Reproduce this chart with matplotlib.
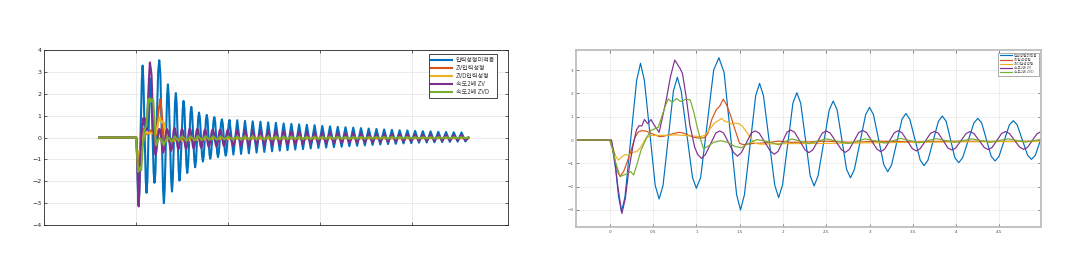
import matplotlib
matplotlib.use('Agg')
import matplotlib.pyplot as plt

labels = ['입력성형미적용', 'ZV입력성형', 'ZVD입력성형', '속도2배 ZV', '속도2배 ZVD']
colors = ['#0072BD', '#D95319', '#EDB120', '#7E2F8E', '#77AC30']

blue_t = [-2.0, 0.0, 0.03, 0.07, 0.10, 0.135, 0.175,
          0.31, 0.355, 0.40, 0.525, 0.57, 0.615, 0.735, 0.78, 0.825,
          0.955, 1.00, 1.05, 1.20, 1.26, 1.32, 1.465, 1.51, 1.555,
          1.685, 1.73, 1.775, 1.905, 1.95, 1.995, 2.115, 2.16, 2.205,
          2.315, 2.36, 2.405, 2.535, 2.58, 2.625, 2.735, 2.78, 2.825,
          2.955, 3.00, 3.045, 3.165, 3.21, 3.255, 3.375, 3.42, 3.465,
          3.585, 3.63, 3.675, 3.795, 3.84, 3.885, 3.985, 4.03, 4.075,
          4.205, 4.25, 4.295, 4.405, 4.45, 4.495, 4.615, 4.66, 4.705,
          4.825, 4.87, 4.915, 5.03, 5.075]
blue_v = [0.0, 0.0, -0.35, -1.3, -2.4, -3.08, -2.45,
          2.55, 3.29, 2.55, -1.95, -2.53, -1.95, 2.1, 2.69, 2.1,
          -1.6, -2.07, -1.6, 3.0, 3.53, 2.9, -2.35, -3.0, -2.35,
          1.9, 2.43, 1.9, -1.93, -2.47, -1.93, 1.58, 2.03, 1.58,
          -1.54, -1.97, -1.54, 1.30, 1.67, 1.30, -1.26, -1.62, -1.26,
          1.09, 1.40, 1.09, -1.06, -1.36, -1.06, 0.89, 1.14, 0.89,
          -0.86, -1.10, -0.86, 0.80, 1.03, 0.80, -0.76, -0.97, -0.76,
          0.73, 0.93, 0.73, -0.70, -0.90, -0.70, 0.65, 0.83, 0.65,
          -0.65, -0.83, -0.65, 0.62, 0.80]

orange_t = [-2.0, 0.0, 0.03, 0.06, 0.10, 0.12, 0.16, 0.20, 0.25, 0.29, 0.33,
            0.37, 0.42, 0.47, 0.52, 0.57, 0.62, 0.68, 0.74, 0.80, 0.85, 0.90,
            0.97, 1.03, 1.09, 1.13, 1.18, 1.23, 1.27, 1.31, 1.35, 1.40, 1.45,
            1.50, 1.55, 1.65, 1.80, 1.95, 2.10, 2.30, 2.50, 2.80, 3.10, 3.50,
            4.00, 4.50, 5.00, 7.0, 9.0, 11.0, 13.0, 15.0, 17.0, 18.05]
orange_v = [0.0, 0.0, -0.3, -0.9, -1.45, -1.55, -1.35, -0.95, -0.4, 0.1, 0.35,
            0.4, 0.38, 0.3, 0.22, 0.15, 0.16, 0.22, 0.28, 0.33, 0.3, 0.22,
            0.12, 0.08, 0.1, 0.25, 0.9, 1.3, 1.45, 1.75, 1.5, 1.0, 0.4,
            -0.15, -0.2, -0.15, -0.12, -0.05, -0.1, -0.08, -0.05, -0.1, -0.05, -0.08,
            -0.05, -0.06, -0.05, -0.04, -0.05, -0.03, -0.04, -0.03, -0.03, -0.03]

yellow_t = [-2.0, 0.0, 0.04, 0.07, 0.10, 0.14, 0.18, 0.22, 0.27, 0.31, 0.36,
            0.42, 0.48, 0.55, 0.65, 0.75, 0.85, 0.95, 1.05, 1.10, 1.15, 1.21,
            1.29, 1.33, 1.37, 1.41, 1.45, 1.49, 1.53, 1.59, 1.67, 1.75, 1.90,
            2.20, 2.60, 3.00, 3.50, 4.00, 4.50, 5.00, 8.0, 11.0, 14.0, 18.05]
yellow_v = [0.0, 0.0, -0.4, -0.7, -0.86, -0.72, -0.62, -0.66, -0.52, -0.5, -0.3,
            0.1, 0.2, 0.2, 0.2, 0.22, 0.2, 0.17, 0.15, 0.2, 0.45, 0.73,
            0.92, 0.8, 0.76, 0.68, 0.72, 0.7, 0.6, 0.29, -0.14, -0.18, -0.16,
            -0.15, -0.14, -0.12, -0.1, -0.08, -0.07, -0.06, -0.04, -0.03, -0.03, -0.02]

purple_t = [-2.0, 0.02, 0.05, 0.09, 0.14, 0.18, 0.22, 0.27, 0.31, 0.34, 0.37,
            0.40, 0.44, 0.475, 0.52, 0.57, 0.61, 0.655, 0.70, 0.75, 0.81, 0.84,
            0.88, 0.925, 0.98, 1.015, 1.06, 1.105, 1.225, 1.27, 1.315,
            1.43, 1.475, 1.52, 1.635, 1.68, 1.725, 1.855, 1.90, 1.945,
            2.045, 2.09, 2.135, 2.255, 2.30, 2.345, 2.455, 2.50, 2.545,
            2.675, 2.72, 2.765, 2.875, 2.92, 2.965, 3.085, 3.13, 3.175,
            3.285, 3.33, 3.375, 3.495, 3.54, 3.585, 3.705, 3.75, 3.795,
            3.905, 3.95, 3.995, 4.115, 4.16, 4.205, 4.325, 4.37, 4.415,
            4.525, 4.57, 4.615, 4.735, 4.78, 4.825, 4.935, 4.98]
purple_v = [0.0, 0.0, -0.6, -1.9, -3.15, -2.5, -1.3, -0.2, 0.45, 0.62, 0.6,
            0.88, 0.7, 0.88, 0.6, 0.33, 1.0, 1.78, 2.7, 3.43, 3.08, 2.85,
            1.9, 0.64, -0.3, -0.62, -0.79, -0.62, 0.3, 0.39, 0.3,
            -0.54, -0.69, -0.54, 0.3, 0.39, 0.3, -0.48, -0.61, -0.48,
            0.33, 0.43, 0.33, -0.42, -0.54, -0.42, 0.3, 0.39, 0.3,
            -0.41, -0.53, -0.41, 0.32, 0.41, 0.32, -0.39, -0.50, -0.39,
            0.31, 0.40, 0.31, -0.37, -0.47, -0.37, 0.29, 0.37, 0.29,
            -0.34, -0.43, -0.34, 0.28, 0.36, 0.28, -0.32, -0.41, -0.32,
            0.28, 0.36, 0.28, -0.31, -0.40, -0.31, 0.27, 0.35]

green_t = [-2.0, 0.0, 0.03, 0.07, 0.12, 0.16, 0.20, 0.24, 0.275, 0.31, 0.36,
           0.42, 0.47, 0.52, 0.56, 0.60, 0.64, 0.675, 0.72, 0.77, 0.82, 0.88,
           0.93, 0.97, 1.02, 1.08, 1.12, 1.20, 1.28, 1.36, 1.45, 1.52, 1.60,
           1.70, 1.80, 1.95, 2.10, 2.30, 2.50, 2.75, 2.95, 3.18, 3.36, 3.57,
           3.77, 3.98, 4.18, 4.39, 4.60, 4.80, 5.00]
green_v = [0.0, 0.0, -0.35, -1.0, -1.57, -1.5, -1.45, -1.35, -1.5, -1.1, -0.45,
           0.05, 0.4, 0.48, 0.55, 1.0, 1.45, 1.76, 1.62, 1.78, 1.65, 1.75,
           1.72, 1.2, 0.4, -0.36, -0.3, -0.1, -0.03, -0.1, -0.28, -0.33, -0.15,
           0.02, -0.05, -0.2, 0.05, -0.15, 0.05, -0.15, 0.05, -0.13, 0.07, -0.12,
           0.06, -0.1, 0.05, -0.1, 0.05, -0.09, 0.04]

tail_t = [5.285, 5.495, 5.705, 5.915, 6.125, 6.335, 6.545, 6.755, 6.965, 7.175,
          7.385, 7.595, 7.805, 8.015, 8.225, 8.435, 8.645, 8.855, 9.065, 9.275,
          9.485, 9.695, 9.905, 10.115, 10.325, 10.535, 10.745, 10.955, 11.165, 11.375,
          11.585, 11.795, 12.005, 12.215, 12.425, 12.635, 12.845, 13.055, 13.265, 13.475,
          13.685, 13.895, 14.105, 14.315, 14.525, 14.735, 14.945, 15.155, 15.365, 15.575,
          15.785, 15.995, 16.205, 16.415, 16.625, 16.835, 17.045, 17.255, 17.465, 17.675,
          17.885, 18.05]
blue_tail = [-0.78, 0.79, -0.75, 0.76, -0.72, 0.74, -0.69, 0.72, -0.66, 0.69,
             -0.63, 0.67, -0.60, 0.64, -0.58, 0.62, -0.55, 0.60, -0.53, 0.58,
             -0.50, 0.56, -0.48, 0.53, -0.46, 0.51, -0.44, 0.49, -0.42, 0.47,
             -0.40, 0.45, -0.38, 0.43, -0.36, 0.41, -0.34, 0.39, -0.32, 0.37,
             -0.30, 0.35, -0.29, 0.33, -0.27, 0.32, -0.26, 0.30, -0.24, 0.29,
             -0.23, 0.28, -0.22, 0.26, -0.21, 0.25, -0.20, 0.24, -0.19, 0.23,
             -0.18, 0.0]
purple_tail = [-0.40, 0.35, -0.39, 0.34, -0.38, 0.33, -0.37, 0.32, -0.36, 0.31,
               -0.35, 0.30, -0.34, 0.29, -0.33, 0.28, -0.32, 0.27, -0.31, 0.26,
               -0.30, 0.25, -0.29, 0.24, -0.28, 0.23, -0.27, 0.22, -0.26, 0.21,
               -0.25, 0.20, -0.24, 0.19, -0.23, 0.18, -0.22, 0.17, -0.21, 0.16,
               -0.20, 0.15, -0.19, 0.15, -0.18, 0.14, -0.17, 0.14, -0.16, 0.13,
               -0.15, 0.13, -0.15, 0.12, -0.14, 0.12, -0.14, 0.11, -0.13, 0.11,
               -0.13, 0.0]
green_tail = [-0.10, 0.05, -0.10, 0.05, -0.09, 0.05, -0.09, 0.04, -0.09, 0.04,
              -0.08, 0.04, -0.08, 0.04, -0.08, 0.04, -0.07, 0.03, -0.07, 0.03,
              -0.07, 0.03, -0.07, 0.03, -0.06, 0.03, -0.06, 0.03, -0.06, 0.02,
              -0.06, 0.02, -0.05, 0.02, -0.05, 0.02, -0.05, 0.02, -0.05, 0.02,
              -0.05, 0.02, -0.04, 0.02, -0.04, 0.02, -0.04, 0.01, -0.04, 0.01,
              -0.04, 0.01, -0.04, 0.01, -0.03, 0.01, -0.03, 0.01, -0.03, 0.01,
              -0.03, 0.0]

series = [
    (blue_t + tail_t, blue_v + blue_tail),
    (orange_t, orange_v),
    (yellow_t, yellow_v),
    (purple_t + tail_t, purple_v + purple_tail),
    (green_t + tail_t, green_v + green_tail),
]

fig = plt.figure(figsize=(10.78, 2.78), dpi=100)
ax1 = fig.add_axes([44 / 1078, 53 / 278, 464 / 1078, 175 / 278])
ax2 = fig.add_axes([576 / 1078, 51 / 278, 465 / 1078, 177 / 278])

for (t, v), c, lab in zip(series, colors, labels):
    ax1.plot(t, v, color=c, lw=1.5, label=lab)
    ax2.plot(t, v, color=c, lw=0.85, label=lab)

# long view
ax1.set_xlim(-5, 20.2)
ax1.set_ylim(-4, 4)
ax1.set_xticks([0, 5, 10, 15])
ax1.set_xticklabels([])
ax1.set_yticks(range(-4, 5))
ax1.tick_params(direction='in', length=2, width=0.5, labelsize=4.5,
                top=True, right=True, colors='#262626', pad=2)
for s in ax1.spines.values():
    s.set_color('#262626')
    s.set_linewidth(0.6)
ax1.grid(True, color='#e3e3e3', lw=0.5)
ax1.set_axisbelow(True)
leg1 = ax1.legend(loc='upper right', bbox_to_anchor=(0.976, 0.977), borderaxespad=0,
                  prop={'family': ['Noto Sans CJK KR', 'DejaVu Sans'], 'size': 4.4},
                  fancybox=False, edgecolor='#262626', framealpha=1,
                  labelspacing=0.02, handlelength=3.4, handletextpad=0.6, borderpad=0.3)
leg1.get_frame().set_linewidth(0.6)
for txt in leg1.get_texts():
    txt.set_color('#444444')

# zoomed view
ax2.set_xlim(-0.39, 4.98)
ax2.set_ylim(-3.73, 3.86)
ax2.set_xticks([0, 0.5, 1, 1.5, 2, 2.5, 3, 3.5, 4, 4.5])
ax2.set_xticklabels(['0', '0.5', '1', '1.5', '2', '2.5', '3', '3.5', '4', '4.5'])
ax2.set_yticks(range(-3, 4))
ax2.tick_params(direction='in', length=2, width=0.5, labelsize=3,
                top=True, right=True, colors='#555555', pad=2)
for s in ax2.spines.values():
    s.set_color('#bdbdbd')
    s.set_linewidth(1.3)
ax2.grid(True, color='#e8e8e8', lw=0.5)
ax2.set_axisbelow(True)
leg2 = ax2.legend(loc='upper right', bbox_to_anchor=(0.995, 0.985), borderaxespad=0,
                  prop={'family': ['Noto Sans CJK KR', 'DejaVu Sans'], 'size': 2.6},
                  fancybox=False, edgecolor='#8c8c8c', framealpha=1,
                  labelspacing=0.05, handlelength=3.4, handletextpad=0.6, borderpad=0.3)
leg2.get_frame().set_linewidth(0.5)
for txt in leg2.get_texts():
    txt.set_color('#555555')

fig.savefig('out.png', dpi=100)
